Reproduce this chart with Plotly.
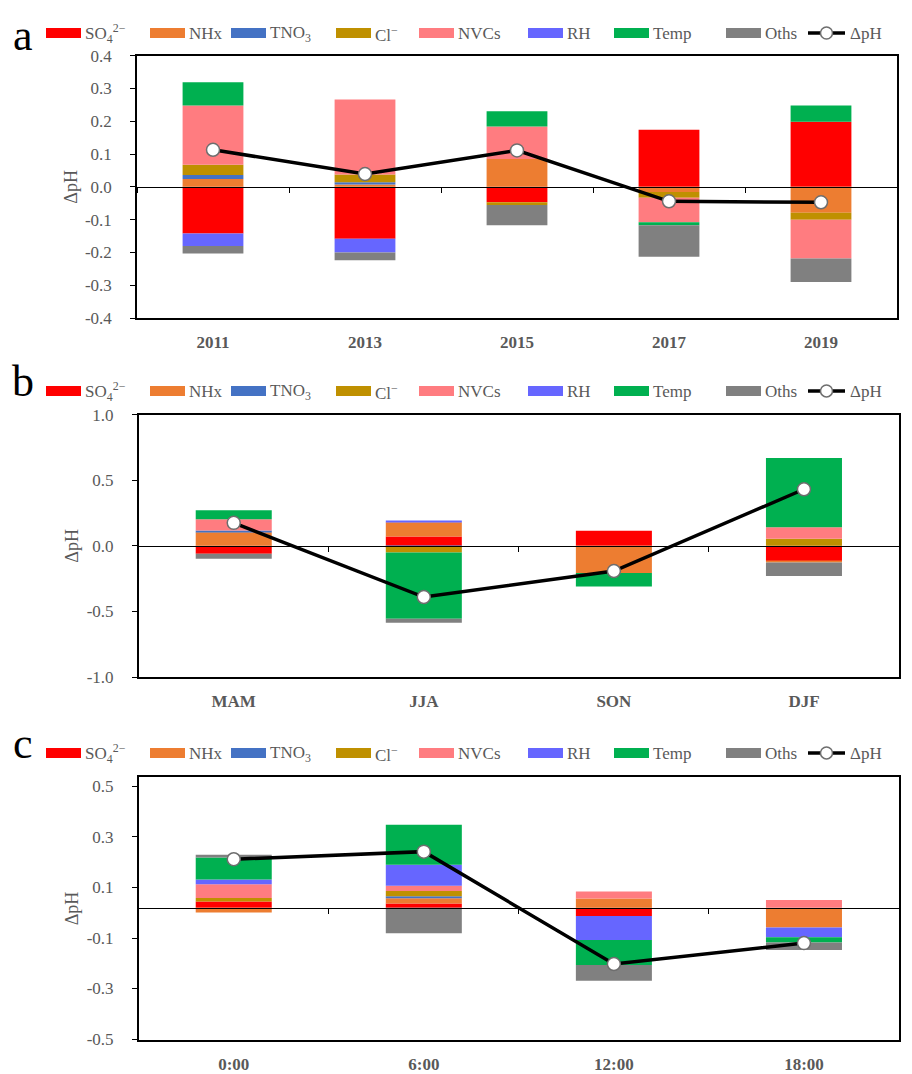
import plotly.graph_objects as go

# the page places the figure 8 px from the top-left corner of the window
OFF = 8
W, H = 912 - OFF, 1074 - OFF
FONT = "'Liberation Serif', 'Times New Roman', Times, serif"
GRAY = "#595959"


def fx(px):
    return (px - OFF) / W


def fy(py):
    return 1 - (py - OFF) / H


# ---------------- data ----------------
series_names = ["SO<sub>4</sub><sup>2−</sup>", "NHx", "TNO<sub>3</sub>", "Cl<sup>−</sup>",
                "NVCs", "RH", "Temp", "Oths"]
series_colors = ["#FF0000", "#ED7D31", "#4472C4", "#BF9000",
                 "#FF7C80", "#6666FF", "#00B050", "#808080"]

# panel a (years)
years = ["2011", "2013", "2015", "2017", "2019"]
a_SO4 = [-0.142, -0.158, -0.047, 0.174, 0.198]
a_NHx = [0.024, 0.007, 0.085, -0.016, -0.079]
a_TNO3 = [0.012, 0.007, 0.0, 0.0, 0.0]
a_Cl = [0.031, 0.024, -0.008, -0.017, -0.021]
a_NVCs = [0.181, 0.228, 0.099, -0.075, -0.118]
a_RH = [-0.038, -0.042, 0.0, 0.0, 0.0]
a_Temp = [0.071, 0.0, 0.046, -0.009, 0.050]
a_Oths = [-0.023, -0.024, -0.062, -0.096, -0.072]
a_dpH = [0.113, 0.039, 0.111, -0.044, -0.047]

# panel b (seasons)
seasons = ["MAM", "JJA", "SON", "DJF"]
b_SO4 = [-0.061, 0.071, 0.114, -0.119]
b_NHx = [0.104, 0.109, -0.207, -0.008]
b_TNO3 = [0.012, -0.006, 0.0, 0.0]
b_Cl = [0.0, -0.045, 0.0, 0.053]
b_NVCs = [0.087, 0.0, 0.0, 0.089]
b_RH = [0.0, 0.012, 0.0, 0.0]
b_Temp = [0.068, -0.504, -0.102, 0.527]
b_Oths = [-0.038, -0.030, 0.0, -0.103]
b_dpH = [0.175, -0.390, -0.192, 0.431]

# panel c (hours)
hours = ["0:00", "6:00", "12:00", "18:00"]
c_SO4 = [0.025, 0.017, -0.033, 0.0]
c_NHx = [-0.019, 0.020, 0.036, -0.078]
c_TNO3 = [0.0, 0.008, 0.0, 0.0]
c_Cl = [0.013, 0.021, 0.0, 0.0]
c_NVCs = [0.055, 0.021, 0.028, 0.030]
c_RH = [0.019, 0.083, -0.095, -0.039]
c_Temp = [0.087, 0.158, -0.099, -0.021]
c_Oths = [0.011, -0.101, -0.062, -0.029]
c_dpH = [0.192, 0.222, -0.223, -0.140]

# axis ticks
a_ticks = [-0.4, -0.3, -0.2, -0.1, 0.0, 0.1, 0.2, 0.3, 0.4]
a_ticktext = ["-0.4", "-0.3", "-0.2", "-0.1", "0.0", "0.1", "0.2", "0.3", "0.4"]
b_ticks = [-1.0, -0.5, 0.0, 0.5, 1.0]
b_ticktext = ["-1.0", "-0.5", "0.0", "0.5", "1.0"]
c_ticks = [-0.52, -0.32, -0.12, 0.08, 0.28, 0.48]
c_ticktext = ["-0.5", "-0.3", "-0.1", "0.1", "0.3", "0.5"]

panels = [
    dict(cats=years, series=[a_SO4, a_NHx, a_TNO3, a_Cl, a_NVCs, a_RH, a_Temp, a_Oths],
         dph=a_dpH, yr=[-0.4, 0.4], tv=a_ticks, tt=a_ticktext,
         px=(137, 897), py=(55.7, 319), label="a", leg_y=33, lab_y=None),
    dict(cats=seasons, series=[b_SO4, b_NHx, b_TNO3, b_Cl, b_NVCs, b_RH, b_Temp, b_Oths],
         dph=b_dpH, yr=[-1.0, 1.0], tv=b_ticks, tt=b_ticktext,
         px=(138.7, 899), py=(415.7, 679), label="b", leg_y=392, lab_y=383),
    dict(cats=hours, series=[c_SO4, c_NHx, c_TNO3, c_Cl, c_NVCs, c_RH, c_Temp, c_Oths],
         dph=c_dpH, yr=[-0.523, 0.517], tv=c_ticks, tt=c_ticktext,
         px=(138.7, 899), py=(779.3, 1042.7), label="c", leg_y=755, lab_y=746),
]

fig = go.Figure()
layout = dict(width=W, height=H, margin=dict(l=0, r=0, t=0, b=0),
              paper_bgcolor="white", plot_bgcolor="white",
              barmode="relative", bargap=0.6, showlegend=False,
              font=dict(family=FONT, color=GRAY, size=17))
shapes = []
annotations = []

for i, p in enumerate(panels):
    n = i + 1
    xa = "x" if n == 1 else f"x{n}"
    ya = "y" if n == 1 else f"y{n}"
    ov = n + 3
    xo = f"x{ov}"
    xdom = [fx(p["px"][0]), fx(p["px"][1])]
    ydom = [fy(p["py"][1]), fy(p["py"][0])]
    for name, col, vals in zip(series_names, series_colors, p["series"]):
        fig.add_trace(go.Bar(x=p["cats"], y=vals, name=name, marker_color=col,
                             marker_line_width=0, xaxis=xa, yaxis=ya))
    fig.add_trace(go.Scatter(x=p["cats"], y=p["dph"], name="ΔpH", mode="lines+markers",
                             line=dict(color="black", width=3.5),
                             marker=dict(size=13, color="white",
                                         line=dict(color="#6e6e6e", width=1.5)),
                             xaxis=xo, yaxis=ya))
    r0, r1 = p["yr"]
    zero_pos = ydom[0] + (0 - r0) / (r1 - r0) * (ydom[1] - ydom[0])
    xkey = "xaxis" if n == 1 else f"xaxis{n}"
    ykey = "yaxis" if n == 1 else f"yaxis{n}"
    layout[xkey] = dict(domain=xdom, anchor=ya, type="category",
                        showline=True, mirror=True, linecolor="black", linewidth=1.5,
                        ticks="", showgrid=False, zeroline=False,
                        ticklabelstandoff=8,
                        tickfont=dict(family=FONT, size=17, color=GRAY, weight="bold"))
    layout[ykey] = dict(domain=ydom, anchor=xa, range=p["yr"],
                        tickvals=p["tv"], ticktext=p["tt"],
                        showline=True, mirror=True, linecolor="black", linewidth=1.5,
                        ticks="outside", ticklen=5, tickcolor="black", tickwidth=1.2,
                        ticklabelstandoff=15,
                        showgrid=False, zeroline=False, automargin=False,
                        tickfont=dict(family=FONT, size=17, color=GRAY),
                        title=dict(text="ΔpH", font=dict(family=FONT, size=18, color=GRAY),
                                   standoff=3))
    layout[f"xaxis{ov}"] = dict(overlaying=xa, matches=xa, anchor="free", position=zero_pos,
                                type="category", showline=True, linecolor="black",
                                linewidth=1.2, ticks="outside", tickson="boundaries",
                                ticklen=5, tickcolor="black", tickwidth=1.2,
                                showticklabels=False, showgrid=False, zeroline=False,
                                layer="above traces")

    # panel letter
    if p["lab_y"] is None:
        annotations.append(dict(text=p["label"], x=fx(23), y=1,
                                xref="paper", yref="paper", showarrow=False,
                                xanchor="center", yanchor="top", yshift=-1,
                                font=dict(family=FONT, size=44, color="black")))
    else:
        annotations.append(dict(text=p["label"], x=fx(23), y=fy(p["lab_y"]),
                                xref="paper", yref="paper", showarrow=False,
                                xanchor="center", yanchor="middle",
                                font=dict(family=FONT, size=44, color="black")))
    # legend row
    ly = p["leg_y"]
    leg_x = [46, 150, 231, 336, 419, 528, 614, 726]
    for lx, name, col in zip(leg_x, series_names, series_colors):
        shapes.append(dict(type="rect", xref="paper", yref="paper",
                           x0=fx(lx), x1=fx(lx + 35),
                           y0=fy(ly + 5), y1=fy(ly - 5),
                           fillcolor=col, line=dict(width=0)))
        annotations.append(dict(text=name, x=fx(lx + 37), y=fy(ly + 1),
                                xref="paper", yref="paper", showarrow=False,
                                xanchor="left", yanchor="middle",
                                font=dict(family=FONT, size=17, color=GRAY)))
    lx = 808
    shapes.append(dict(type="line", xref="paper", yref="paper",
                       x0=fx(lx), x1=fx(lx + 37), y0=fy(ly), y1=fy(ly),
                       line=dict(color="black", width=3.5)))
    shapes.append(dict(type="circle", xref="paper", yref="paper",
                       x0=fx(lx + 12.5), x1=fx(lx + 24.5),
                       y0=fy(ly + 6), y1=fy(ly - 6),
                       fillcolor="white", line=dict(color="#6e6e6e", width=1.5)))
    annotations.append(dict(text="ΔpH", x=fx(lx + 40), y=fy(ly + 1),
                            xref="paper", yref="paper", showarrow=False,
                            xanchor="left", yanchor="middle",
                            font=dict(family=FONT, size=17, color=GRAY)))

layout["shapes"] = shapes
layout["annotations"] = annotations
fig.update_layout(**layout)
fig.write_html("out.html")
